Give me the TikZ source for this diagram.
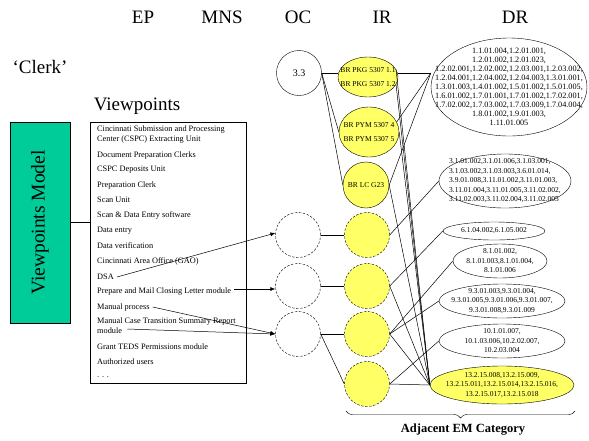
\documentclass[tikz,border=0pt]{standalone}
\usepackage{fontspec}
\setmainfont{Liberation Serif}
\usetikzlibrary{arrows.meta, shapes.geometric, decorations.pathreplacing, calc}
\definecolor{vpgreen}{RGB}{0,204,153}
\definecolor{iryellow}{RGB}{255,255,102}

\begin{document}
\begin{tikzpicture}[x=1pt, y=-1pt,
  head/.style={font=\fontsize{19}{21}\selectfont, inner sep=0pt},
  item/.style={anchor=west, inner sep=0pt, font=\fontsize{8.3}{9}\selectfont},
  occirc/.style={draw, circle, minimum size=45pt, inner sep=0pt},
  irnode/.style={draw, ellipse, fill=iryellow, inner sep=0pt},
  irtext/.style={font=\fontsize{7.5}{14}\selectfont, align=center, inner sep=0pt},
  drnode/.style={draw, ellipse, inner sep=0pt},
  drtext/.style={font=\fontsize{7.5}{9.5}\selectfont, align=center, inner sep=0pt},
  dashy/.style={dash pattern=on 2.5pt off 1.5pt},
  link/.style={line width=0.5pt},
  pick/.style={-{Latex[length=5pt,width=4pt]}, line width=0.5pt}]

  \useasboundingbox (0,0) rectangle (589,440);

  % Column heads
  \foreach \x/\t in {143/EP, 222/MNS, 298/OC, 382/IR, 515/DR}
    \node[head] (hd-\t) at (\x,17) {\t};
  \node[head] (clerk) at (40,67) {`Clerk'};
  \node[head] (vptitle) at (137,106) {Viewpoints};

  % Viewpoints model and list
  \node[draw, fill=vpgreen, rotate=90, minimum width=201pt, minimum height=60pt,
        font=\fontsize{19.5}{21}\selectfont] (vpmodel) at (40,222.5) {Viewpoints Model};
  \node[draw, minimum width=156pt, minimum height=261pt, inner sep=0pt] (vplist) at (168,252.5) {};
  \draw[link] (vpmodel.south) -- (vpmodel.south -| vplist.west);

  \foreach \i/\y/\t in {1/130/{Cincinnati Submission and Processing},
      2/140/{Center (CSPC) Extracting Unit}, 3/155/{Document Preparation Clerks},
      4/170/{CSPC Deposits Unit}, 5/185/{Preparation Clerk}, 6/200/{Scan Unit},
      7/215/{Scan \& Data Entry software}, 8/231/{Data entry},
      9/246/{Data verification}, 10/261/{Cincinnati Area Office (GAO)},
      11/277/{DSA}, 12/292/{Prepare and Mail Closing Letter module},
      13/307/{Manual process}, 14/322/{Manual Case Transition Summary Report},
      15/331/{module}, 16/347/{Grant TEDS Permissions module},
      17/362/{Authorized users}, 18/377/{. . .}}
    \node[item] (vp-\i) at (97,\y) {\t};

  % OC column
  \node[occirc, font=\fontsize{10}{12}\selectfont] (oc0) at (299,73) {3.3};
  \foreach \i/\y in {1/235, 2/286, 3/334}
    \node[occirc, dashy] (oc\i) at (298,\y) {};

  \path (vp-11.east) ++(3,0) coordinate (p11);
  \path (vp-12.east) ++(3,-3) coordinate (p12);
  \path (vp-13.east) ++(3,0) coordinate (p13);
  \path (vp-15.east) ++(5,-2) coordinate (p15);
  \draw[pick] (p11) -- (oc1.175);
  \draw[pick] (p12) -- (p12 -| oc2.west);
  \draw[pick] (p13) -- (oc3.west);
  \draw[pick] (p15) -- (oc3.west);

  % IR column
  \node[irnode, minimum width=60pt, minimum height=40pt,
        label={[irtext]center:BR PKG 5307 1.1\\BR PKG 5307 1.2}] (ir1) at (368,77) {};
  \node[irnode, minimum width=60pt, minimum height=50pt,
        label={[irtext]center:BR PYM 5307 4\\BR PYM 5307 5}] (ir2) at (369,132) {};
  \node[irnode, circle, minimum size=46pt,
        label={[irtext]center:BR LC G23}] (ir3) at (366,185) {};
  \foreach \i/\y in {4/235, 5/286, 6/334, 7/384}
    \node[irnode, circle, dashy, minimum size=45pt] (ir\i) at (367,\y) {};

  % DR column
  \node[drnode, minimum width=156pt, minimum height=98pt,
        label={[drtext, font=\fontsize{8.2}{9}\selectfont]center:1.1.01.004,1.2.01.001,\\1.2.01.002,1.2.01.023,\\
          1.2.02.001,1.2.02.002,1.2.03.001,1.2.03.002,\\1.2.04.001,1.2.04.002,1.2.04.003,1.3.01.001,\\
          1.3.01.003,1.4.01.002,1.5.01.002,1.5.01.005,\\1.6.01.002,1.7.01.001,1.7.01.002,1.7.02.001,\\
          1.7.02.002,1.7.03.002,1.7.03.009,1.7.04.004,\\1.8.01.002,1.9.01.003,\\1.11.01.005}] (dr1) at (509,87) {};
  \node[drnode, minimum width=132pt, minimum height=54pt,
        label={[drtext, align=left]center:3.1.01.002,3.1.01.006,3.1.03.001,\\3.1.03.002,3.1.03.003,3.6.01.014,\\
          3.9.01.008,3.11.01.002,3.11.01.003,\\3.11.01.004,3.11.01.005,3.11.02.002,\\3.11.02.003,3.11.02.004,3.11.02.005}] (dr2) at (505,181) {};
  \node[drnode, minimum width=102pt, minimum height=18pt,
        label={[drtext]center:6.1.04.002,6.1.05.002}] (dr3) at (494,231) {};
  \node[drnode, minimum width=94pt, minimum height=34pt,
        label={[drtext]center:8.1.01.002,\\8.1.01.003,8.1.01.004,\\8.1.01.006}] (dr4) at (500,261) {};
  \node[drnode, minimum width=126pt, minimum height=34pt,
        label={[drtext]center:9.3.01.003,9.3.01.004,\\9.3.01.005,9.3.01.006,9.3.01.007,\\9.3.01.008,9.3.01.009}] (dr5) at (502,301) {};
  \node[drnode, minimum width=126pt, minimum height=34pt,
        label={[drtext]center:10.1.01.007,\\10.1.03.006,10.2.02.007,\\10.2.03.004}] (dr6) at (502,341) {};
  \node[drnode, fill=iryellow, minimum width=144pt, minimum height=38pt,
        label={[drtext]center:13.2.15.008,13.2.15.009,\\13.2.15.011,13.2.15.014,13.2.15.016,\\13.2.15.017,13.2.15.018}] (dr7) at (502,385) {};

  % OC to IR
  \draw[link] (oc0.east) -- (oc0.east -| ir1.west);
  \draw[link] (oc0.east) -- (ir2.west);
  \draw[link] (oc0.east) -- (ir3.west);
  \foreach \i/\j in {1/4, 2/5, 3/6}
    \draw[link] (oc\i.east) -- (oc\i.east -| ir\j.west);
  \draw[link] (oc3.east) -- (ir7.west);

  % IR to DR
  \coordinate (dr1in) at (oc0.east -| dr1.west);
  \draw[link] (oc0.east -| ir1.east) -- (dr1in);
  \foreach \a in {ir2.20, ir3.east}
    \draw[link] (\a) -- (dr1in);
  \foreach \a in {ir1.15, ir1.-15, ir2.east, ir3.east, ir5.east, ir6.east, ir7.east}
    \draw[link] (\a) -- (dr7.west);
  \draw[link] (ir4.east) -- (dr2.west);
  \draw[link] (ir5.east) -- (dr3.west);
  \draw[link] (ir6.east) -- (dr4.west);
  \draw[link] (ir6.east) -- (dr5.west);
  \draw[link] (ir7.east) -- (dr6.west);

  % Category brace
  \coordinate (brl) at (346,411);
  \coordinate (brr) at (575,411);
  \draw[decorate, decoration={brace, mirror, amplitude=7pt}] (brl) -- (brr);
  \node[font=\bfseries\fontsize{12.5}{14}\selectfont] (adjem) at (463,430) {Adjacent EM Category};

\end{tikzpicture}
\end{document}
